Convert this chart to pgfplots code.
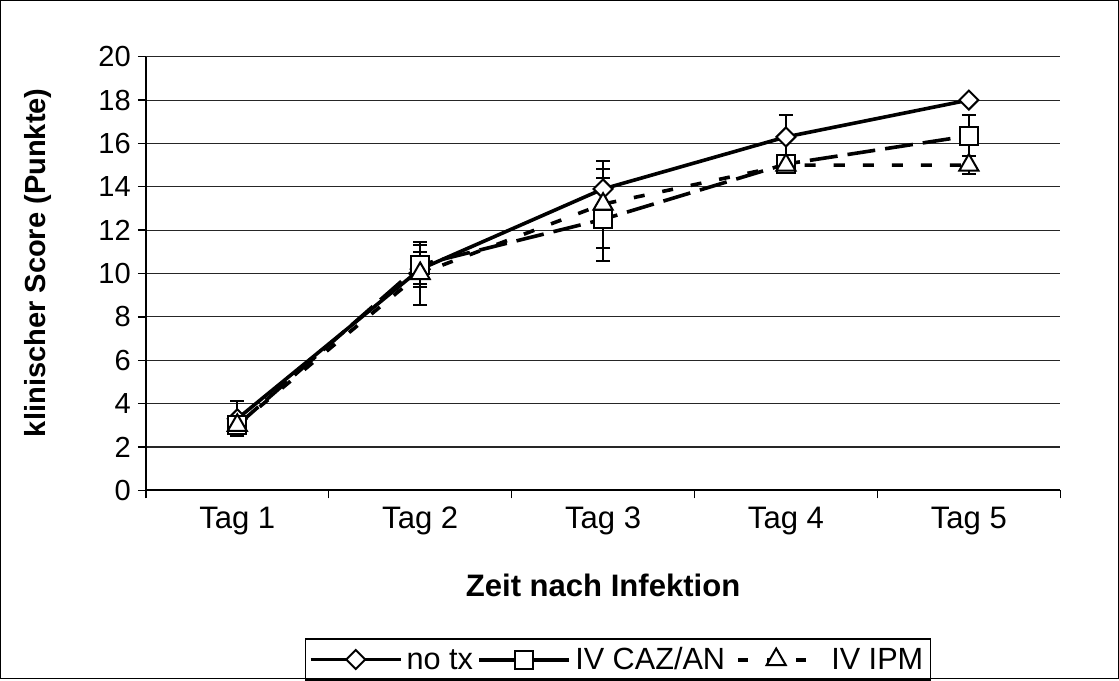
\documentclass[border=0pt]{standalone}
\usepackage{fontspec}
\setmainfont{Liberation Sans}
\usepackage{pgfplots}
\usepackage{pgfplotstable}
\pgfplotsset{compat=1.18}
\pgfplotstableread{
x y e
0 3.3 0.8
1 10.2 0.8
2 13.9 0.9
3 16.3 1.0
4 18.0 0.0
}\notx
\pgfplotstableread{
x y e
0 3.0 0.3
1 10.4 0.9
2 12.5 1.9
3 15.05 0.4
4 16.35 0.95
}\caz
\pgfplotstableread{
x y e
0 3.0 0.3
1 10.0 1.45
2 13.2 2.0
3 15.0 0.3
4 15.0 0.4
}\ipm
\begin{document}
\begin{tikzpicture}
\begin{axis}[name=ax,
  scale only axis, width=456.5pt, height=216.5pt,
  xmin=-0.5, xmax=4.5, ymin=0, ymax=20,
  axis x line*=bottom, axis y line*=left,
  axis line style={line width=0.9pt, black},
  xtick={-0.5,0.5,...,4.5}, xticklabels={,,,,,,},
  extra x ticks={0,1,2,3,4},
  extra x tick labels={Tag 1,Tag 2,Tag 3,Tag 4,Tag 5},
  extra x tick style={major tick length=0pt, grid=none},
  ytick={0,2,...,20},
  tick align=outside, major tick length=4pt,
  tick style={black, line width=0.7pt},
  ymajorgrids, grid style={black!85, line width=0.55pt},
  /pgf/number format/assume math mode=true,
  yticklabel style={font=\fontsize{14.5}{16}\selectfont},
  xticklabel style={font=\fontsize{15.5}{17}\selectfont, text height=11.5pt, text depth=3.5pt, yshift=-4pt},
  xlabel={Zeit nach Infektion},
  ylabel={klinischer Score (Punkte)},
  xlabel style={font=\fontsize{15.5}{17}\selectfont\bfseries, at={(axis description cs:0.5,-0.2194)}, anchor=center},
  ylabel style={font=\fontsize{14.5}{16}\selectfont\bfseries, at={(axis description cs:-0.1183,0.525)}, anchor=center},
  legend columns=-1,
  legend style={at={(0.5164,-0.390)}, anchor=center, draw=black, line width=0.6pt,
    font=\fontsize{15.3}{17}\selectfont, inner sep=1.5pt,
    /tikz/every even column/.append style={column sep=0pt}},
  legend image code/.code={\draw[mark repeat=2,mark phase=2] plot coordinates {(0pt,0pt) (22.5pt,0pt) (45pt,0pt)};},
  error bars/error bar style={line width=1pt, solid},
  error bars/error mark options={rotate=90, line width=1pt, mark size=3.5pt, solid, black},
]
\addplot[black, line width=1.8pt, mark=square*, mark size=3.35pt,
  mark options={rotate=45, fill=white, solid, line width=1pt},
  error bars/.cd, y dir=both, y explicit]
  table[x=x, y=y, y error=e] {\notx};
\addlegendentry{\strut no tx\hspace{7pt}}
\addplot[black, line width=1.8pt, dash pattern=on 14pt off 5pt, mark=square*, mark size=4.5pt,
  mark options={fill=white, solid, line width=1pt},
  legend image code/.code={\draw[mark repeat=2,mark phase=2,solid,line width=2pt] plot coordinates {(0pt,0pt) (22.5pt,0pt) (45pt,0pt)};},
  error bars/.cd, y dir=both, y explicit]
  table[x=x, y=y, y error=e] {\caz};
\addlegendentry{\strut IV CAZ/AN}
\addplot[black, line width=1.8pt, dash pattern=on 5.5pt off 9pt, mark=triangle*, mark size=5.5pt,
  mark options={fill=white, solid, line width=1pt},
  legend image code/.code={\draw[mark repeat=2,mark phase=2,line width=2pt,dash pattern=on 5pt off 9.5pt,dash phase=11pt] plot coordinates {(0pt,0pt) (22.5pt,0pt) (45pt,0pt)};},
  error bars/.cd, y dir=both, y explicit]
  table[x=x, y=y, y error=e] {\ipm};
\addlegendentry{\strut\hspace{2pt}IV IPM}
\end{axis}
\draw[line width=0.6pt] ([shift={(-72.5pt,-94pt)}]ax.south west) rectangle ([shift={(485.5pt,244.5pt)}]ax.south west);
\end{tikzpicture}
\end{document}
